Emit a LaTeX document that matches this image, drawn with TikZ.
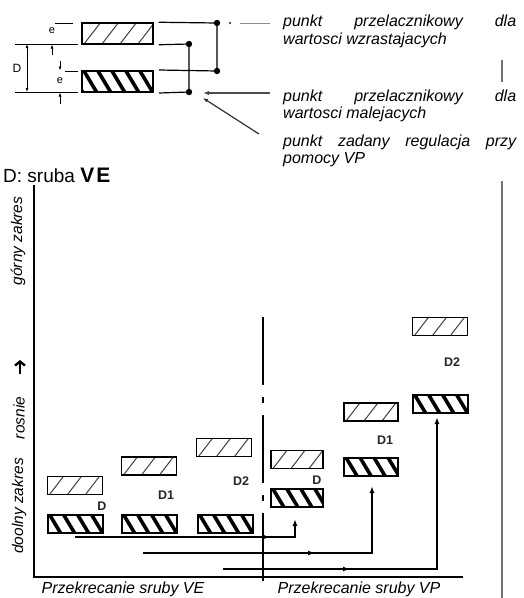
\documentclass[tikz,border=0pt]{standalone}
\usepackage{fontspec}
\setmainfont{Liberation Sans}
\usetikzlibrary{arrows.meta,calc,decorations.markings}
\begin{document}
\begin{tikzpicture}[x=1pt,y=-1pt,
  lightbox/.style={draw, line width=1.5pt, minimum width=55pt, minimum height=18pt, inner sep=0pt,
    path picture={\foreach \k in {-2,...,4} {\draw[line width=1pt,black!75]
      ($(path picture bounding box.south west)+(\k*18pt+2pt,0pt)$) -- ++(20pt,26pt);}}},
  darkbox/.style={draw, line width=2pt, minimum width=55pt, minimum height=18pt, inner sep=0pt,
    path picture={\foreach \k in {-2,...,6} {\draw[line width=3.6pt]
      ($(path picture bounding box.north west)+(\k*14pt+2pt,0pt)$) -- ++(15pt,-25pt);}}},
  conn/.style={line width=1.2pt},
  tip/.style={-{Latex[length=6pt,width=4.5pt]}},
  flow/.style={line width=1.4pt,-{Latex[length=7pt,width=5pt]}, postaction={decorate},
    decoration={markings, mark=at position #1 with {\arrow{Latex[length=7pt,width=5pt]}}}},
  itx/.style={font=\itshape\fontsize{16}{18}\selectfont, inner sep=0pt},
  rtx/.style={font=\itshape\fontsize{15.5}{18}\selectfont, inner sep=0pt, rotate=90},
  lbl/.style={font=\bfseries\fontsize{12.5}{12}\selectfont, text=black!85, inner sep=0pt},
  grayline/.style={line width=1.2pt, black!55}
]
\useasboundingbox (0,0) rectangle (524,598);

% ---------- legend ----------
\node[lightbox, minimum width=71pt, minimum height=21pt] (Lt) at (117.5,33.5) {};
\node[darkbox, minimum width=71pt, minimum height=21pt] (Ld) at (117.5,81.5) {};
\coordinate (p1) at (217,23);
\coordinate (p2) at (189,44);
\coordinate (p3) at (217,71);
\coordinate (p4) at (189,92);
\draw[conn] ($(Lt.north east)+(5pt,0pt)$) -- (p1) -- (p3) -- ($(Ld.north east)+(5pt,0pt)$);
\draw[conn] ($(Lt.south east)+(5pt,0pt)$) -- (p2) -- (p4) -- ($(Ld.south east)+(5pt,0pt)$);
\foreach \p in {p1,p2,p3,p4} \fill (\p) circle (3.2pt);
\fill[black!70] (230,23) circle (1.4pt);
\draw[line width=1pt, black!45] (240,23) -- (270,23);
\coordinate (a1s) at (270,93);
\coordinate (a1e) at (203,93);
\draw[conn, black!70, tip] (a1s) -- (a1e);
\coordinate (a2s) at (259,134);
\coordinate (a2e) at (203,98);
\draw[conn, black!80, -{Latex[length=5pt,width=4pt]}] (a2s) -- (a2e);

% dimensions
\draw[line width=0.9pt] (15,44) -- (78,44);
\draw[line width=0.9pt] (15,92) -- (78,92);
\draw[line width=0.9pt] (55,23) -- (73,23);
\draw[line width=0.9pt] (65,71) -- (78,71);
\draw[line width=0.9pt, {Latex[length=4pt,width=3pt]}-{Latex[length=4pt,width=3pt]}] (27,44) -- (27,92);
\node[font=\fontsize{12}{12}\selectfont, inner sep=0pt] (dimD) at (17,68) {D};
\node[font=\fontsize{11}{11}\selectfont, inner sep=0pt] (dimE1) at (52,31) {e};
\node[font=\fontsize{11}{11}\selectfont, inner sep=0pt] (dimE2) at (60,81) {e};
\draw[line width=0.9pt, -{Latex[length=4pt,width=3pt]}] (52,55) -- (52,44.5);
\draw[line width=0.9pt, -{Latex[length=4pt,width=3pt]}] (60,61) -- (60,70.5);
\draw[line width=0.9pt, -{Latex[length=4pt,width=3pt]}] (60,104) -- (60,92.5);

% legend texts
\node[itx, anchor=base west] (t1) at (283,26) {\makebox[233pt][s]{punkt przelacznikowy dla}};
\node[itx, anchor=base west] (t2) at (283,44) {wartosci wzrastajacych};
\node[itx, anchor=base west] (t3) at (283,101) {\makebox[233pt][s]{punkt przelacznikowy dla}};
\node[itx, anchor=base west] (t4) at (283,118) {wartosci malejacych};
\node[itx, anchor=base west] (t5) at (283,146) {\makebox[233pt][s]{punkt zadany regulacja przy}};
\node[itx, anchor=base west] (t6) at (283,163) {pomocy VP};
\draw[grayline] (502,60) -- (502,82);
\draw[grayline] (502,181) -- (502,598);

% title
\node[anchor=base west, inner sep=0pt, font=\fontsize{19}{22}\selectfont] (title) at (3,182)
  {D: sruba \fontsize{21}{22}\selectfont\textbf{V\kern2pt E}};

% ---------- chart axes ----------
\draw[line width=1.8pt] (34,185) -- (34,577) -- (463,577);
\draw[line width=1.2pt, dash pattern=on 68pt off 12pt on 6pt off 12pt] (263,317) -- (263,592);

\node[rtx] (g1) at (18,241) {górny zakres};
\draw[line width=2.4pt, -{Straight Barb[length=4pt,width=10pt,line width=2.4pt]}] (20,374) -- (20,360);
\node[rtx] (g3) at (19,418) {rosnie};
\node[rtx] (g4) at (19,506) {doolny zakres};

\node[itx, anchor=base] (x1) at (123,593) {Przekrecanie sruby VE};
\node[itx, anchor=base] (x2) at (359,593) {Przekrecanie sruby VP};

% ---------- boxes ----------
\node[lightbox] (Al) at (75,485.5) {};
\node[darkbox]  (Ad) at (75,523.5) {};
\node[lightbox] (Bl) at (149,466) {};
\node[darkbox]  (Bd) at (149,523.5) {};
\node[lightbox] (Cl) at (224,447.5) {};
\node[darkbox]  (Cd) at (225,523.5) {};
\node[lightbox, minimum width=52pt] (Dl) at (297,459.5) {};
\node[darkbox, minimum width=52pt]  (Dd) at (297,498) {};
\node[lightbox, minimum width=54pt] (El) at (371,412) {};
\node[darkbox, minimum width=54pt]  (Ed) at (371,466.5) {};
\node[lightbox] (Fl) at (440,326.5) {};
\node[darkbox]  (Fd) at (440,403.5) {};

\node[lbl] (lA) at (102,506) {D};
\node[lbl] (lB) at (166,495) {D1};
\node[lbl] (lC) at (241,481) {D2};
\node[lbl] (lD) at (317,480) {D};
\node[lbl] (lE) at (385,440) {D1};
\node[lbl] (lF) at (452,362) {D2};

% ---------- arrows ----------
\coordinate (s1) at (75,537);
\coordinate (c1) at (295,537);
\coordinate (e1) at (295,519);
\draw[flow=195pt] (s1) -- (c1) -- (e1);
\coordinate (s2) at (143,553);
\coordinate (c2) at (372,553);
\coordinate (e2) at (372,486);
\draw[flow=172pt] (s2) -- (c2) -- (e2);
\coordinate (s3) at (223,569);
\coordinate (c3) at (437,569);
\coordinate (e3) at (437,417);
\draw[flow=127pt] (s3) -- (c3) -- (e3);
\end{tikzpicture}
\end{document}
